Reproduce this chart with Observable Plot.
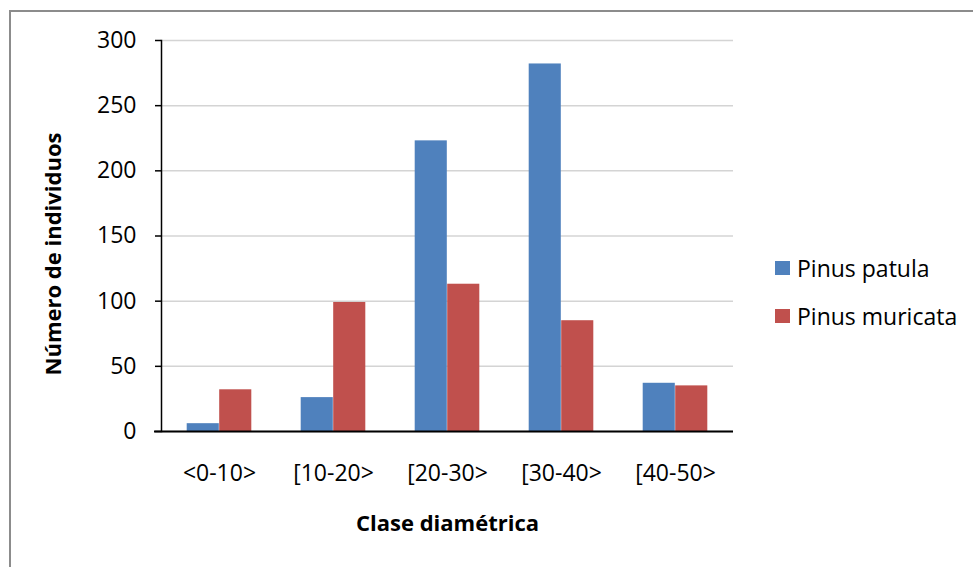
<!DOCTYPE html>
<html>
<head>
<meta charset="utf-8">
<script src="https://cdn.jsdelivr.net/npm/d3@7"></script>
<script src="https://cdn.jsdelivr.net/npm/@observablehq/plot@0.6"></script>
<style>
  html, body { margin: 0; padding: 0; background: #fff; overflow: hidden; }
  #wrap { position: relative; width: 973px; height: 567px; overflow: hidden; font-family: "Open Sans", sans-serif; }
  #border { position: absolute; left: 9px; top: 10px; width: 1000px; height: 600px; border: 2px solid #8c8c8c; box-sizing: border-box; }
  #chart { position: absolute; left: 0; top: 0; }
  #legend { position: absolute; left: 775px; top: 255px; font-size: 23px; color: #000; }
  .item { display: flex; align-items: center; height: 26px; margin-bottom: 22px; }
  .sw { width: 15px; height: 14px; margin-right: 7px; }
</style>
</head>
<body>
<div id="wrap">
  <div id="border"></div>
  <div id="chart"></div>
  <div id="legend"></div>
</div>
<script>
const categories = ["<0-10>", "[10-20>", "[20-30>", "[30-40>", "[40-50>"];
const seriesNames = ["Pinus patula", "Pinus muricata"];
const patula = [6, 26, 223, 282, 37];
const muricata = [32, 99, 113, 85, 35];
const colors = ["#4F81BD", "#C0504D"];
const yTicks = [0, 50, 100, 150, 200, 250, 300];
const yTitle = "Número de individuos";
const xTitle = "Clase diamétrica";

const dataP = categories.map((c, i) => ({cls: c, value: patula[i]}));
const dataM = categories.map((c, i) => ({cls: c, value: muricata[i]}));

const W = 973, H = 567;
const mL = 161, mR = 240, mT = 40, mB = 136;
const band = (W - mL - mR) / categories.length;
const half = band / 2;
const barW = 32.5;

const chart = Plot.plot({
  width: W,
  height: H,
  marginLeft: mL,
  marginRight: mR,
  marginTop: mT,
  marginBottom: mB,
  style: {background: "transparent", fontFamily: "'Open Sans', sans-serif", fontSize: "23px", color: "#000"},
  x: {domain: categories, padding: 0, axis: null},
  y: {domain: [0, 300], axis: null},
  marks: [
    Plot.gridY(yTicks, {stroke: "#d4d4d4", strokeOpacity: 1, strokeWidth: 1.5}),
    Plot.barY(dataP, {x: "cls", y: "value", fill: colors[0], insetLeft: half - barW, insetRight: half}),
    Plot.barY(dataM, {x: "cls", y: "value", fill: colors[1], insetLeft: half, insetRight: half - barW}),
    Plot.axisY({ticks: yTicks, tickSize: 6, tickPadding: 19, stroke: "#000", strokeWidth: 1.5, label: null, fontSize: 23}),
    Plot.axisX({tickSize: 0, tickPadding: 33, label: null, fontSize: 23}),
    Plot.frame({anchor: "left", stroke: "#000", strokeWidth: 1.5}),
    Plot.ruleY([0], {stroke: "#000", strokeWidth: 2, insetLeft: -7}),
    Plot.text([yTitle], {frameAnchor: "left", textAnchor: "middle", dx: -108, dy: 18, rotate: -90, fontWeight: "bold", fontSize: 22, fill: "#000"}),
    Plot.text([xTitle], {frameAnchor: "bottom", textAnchor: "middle", dy: 99, fontWeight: "bold", fontSize: 22, fill: "#000"})
  ]
});
document.getElementById("chart").appendChild(chart);

const legend = document.getElementById("legend");
seriesNames.forEach((name, i) => {
  const item = document.createElement("div");
  item.className = "item";
  const sw = document.createElement("div");
  sw.className = "sw";
  sw.style.background = colors[i];
  const label = document.createElement("span");
  label.textContent = name;
  item.appendChild(sw);
  item.appendChild(label);
  legend.appendChild(item);
});
</script>
</body>
</html>
